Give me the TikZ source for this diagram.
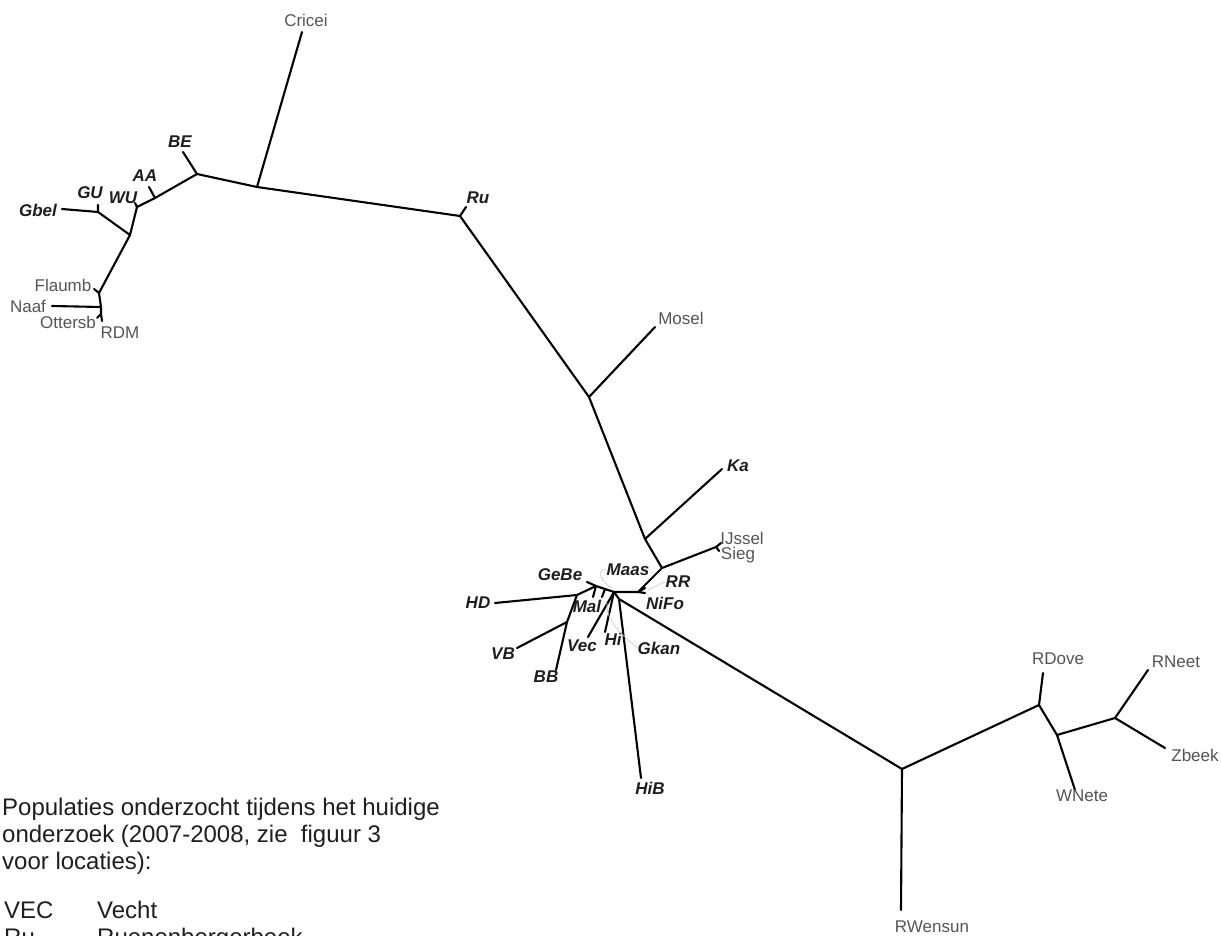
\documentclass[tikz,border=0pt]{standalone}
\usepackage{fontspec}
\setmainfont{Liberation Sans}
\usepackage{tikz}
\definecolor{naamgrijs}{RGB}{85,85,85}
\definecolor{naamdonker}{RGB}{30,30,30}
\tikzset{
  tak/.style={line width=2.1pt, black, line join=round, line cap=round},
  naam/.style={font=\fontsize{17}{17}\selectfont, text=naamgrijs, inner sep=0pt},
  naamvet/.style={font=\fontsize{17}{17}\selectfont\bfseries\itshape, text=naamdonker, inner sep=0pt},
  hulplijn/.style={line width=0.7pt, gray!40},
  tekst/.style={font=\fontsize{24}{27}\selectfont, text=black!88, inner sep=0pt, anchor=base west}
}

\begin{document}
\begin{tikzpicture}[x=1pt,y=-1pt]
  \useasboundingbox (0,0) rectangle (1221,936);
  \clip (0,0) rectangle (1221,936);
  \fill[white] (0,0) rectangle (1221,936);

  % Bovenste groep
  \coordinate (cri) at (302,32);
  \coordinate (jcri) at (257,187);
  \coordinate (jbe) at (197,174);
  \coordinate (be) at (183,152);
  \coordinate (jaa) at (155,198);
  \coordinate (aa) at (149,187);
  \coordinate (jwu) at (137,207);
  \coordinate (wu) at (135,203);
  \coordinate (n1) at (130,235);
  \coordinate (jgu) at (98,212);
  \coordinate (gu) at (98,205);
  \coordinate (gbel) at (62,209);
  \coordinate (jfl) at (99,293);
  \coordinate (fl) at (94,289);
  \coordinate (n2) at (101,307);
  \coordinate (naaf) at (52,306);
  \coordinate (n3) at (101,314);
  \coordinate (ott) at (97,318);
  \coordinate (rdm) at (102,321);

  % Middenas
  \coordinate (jru) at (460,216);
  \coordinate (ru) at (466,207);
  \coordinate (jmos) at (589,397);
  \coordinate (mos) at (655,327);
  \coordinate (jka) at (645,539);
  \coordinate (ka) at (722,469);
  \coordinate (jij) at (662,568);
  \coordinate (jis) at (716,547);
  \coordinate (ijs) at (721,543);
  \coordinate (sieg) at (719,551);
  \coordinate (jrr) at (638,592);
  \coordinate (rr) at (645,588);
  \coordinate (nifo) at (645,593);
  \coordinate (hub) at (614,592);
  \coordinate (jx) at (605,589);
  \coordinate (mal2) at (602,597);
  \coordinate (jge) at (596,586);
  \coordinate (gebe) at (587,582);
  \coordinate (mal) at (593,597);
  \coordinate (jhd) at (577,595);
  \coordinate (hd) at (495,603);
  \coordinate (jvb) at (567,622);
  \coordinate (vb) at (517,648);
  \coordinate (bb) at (556,670);
  \coordinate (vec) at (588,637);
  \coordinate (hi) at (605,632);
  \coordinate (jhb) at (619,599);
  \coordinate (hib) at (641,778);

  % Rechter groep
  \coordinate (jwen) at (902,769);
  \coordinate (wen) at (901,910);
  \coordinate (jdov) at (1039,705);
  \coordinate (dov) at (1043,673);
  \coordinate (jwn) at (1057,735);
  \coordinate (wn) at (1075,790);
  \coordinate (jzb) at (1115,718);
  \coordinate (rneet) at (1148,670);
  \coordinate (zbeek) at (1165,748);

  % Takken
  \draw[tak] (cri) -- (jcri) -- (jru);
  \draw[tak] (jcri) -- (jbe) -- (be);
  \draw[tak] (jbe) -- (jaa) -- (aa);
  \draw[tak] (jaa) -- (jwu) -- (wu);
  \draw[tak] (jwu) -- (n1) -- (jgu) -- (gu);
  \draw[tak] (jgu) -- (gbel);
  \draw[tak] (n1) -- (jfl) -- (fl);
  \draw[tak] (jfl) -- (n2) -- (naaf);
  \draw[tak] (n2) -- (n3) -- (ott);
  \draw[tak] (n3) -- (rdm);

  \draw[tak] (jru) -- (ru);
  \draw[tak] (jru) -- (jmos) -- (mos);
  \draw[tak] (jmos) -- (jka) -- (ka);
  \draw[tak] (jka) -- (jij) -- (jis) -- (ijs);
  \draw[tak] (jis) -- (sieg);
  \draw[tak] (jij) -- (jrr) -- (rr);
  \draw[tak] (jrr) -- (nifo);
  \draw[tak] (jrr) -- (hub) -- (jx) -- (jge) -- (gebe);
  \draw[tak] (jx) -- (mal2);
  \draw[tak] (jge) -- (mal);
  \draw[tak] (jge) -- (jhd) -- (hd);
  \draw[tak] (jhd) -- (jvb) -- (vb);
  \draw[tak] (jvb) -- (bb);
  \draw[tak] (hub) -- (vec);
  \draw[tak] (hub) -- (hi);
  \draw[tak] (hub) -- (jhb) -- (hib);
  \draw[tak] (jhb) -- (jwen) -- (wen);
  \draw[tak] (jwen) -- (jdov) -- (dov);
  \draw[tak] (jdov) -- (jwn) -- (wn);
  \draw[tak] (jwn) -- (jzb) -- (rneet);
  \draw[tak] (jzb) -- (zbeek);

  % Namen
  \node[naam] (tcri) at (306,20) {Cricei};
  \node[naamvet] (tbe) at (180,142) {BE};
  \node[naamvet] (taa) at (145,176) {AA};
  \node[naamvet] (twu) at (123,198) {WU};
  \node[naamvet] (tgu) at (90,193) {GU};
  \node[naamvet] (tgbel) at (38,210) {Gbel};
  \node[naam] (tfl) at (63,285) {Flaumb};
  \node[naam] (tnaaf) at (28,306) {Naaf};
  \node[naam] (tott) at (68,322) {Ottersb};
  \node[naam] (trdm) at (120,333) {RDM};
  \node[naamvet] (tru) at (478,198) {Ru};
  \node[naam] (tmos) at (681,318) {Mosel};
  \node[naamvet] (tka) at (738,466) {Ka};
  \node[naam] (tijs) at (742,538) {IJssel};
  \node[naam] (tsieg) at (738,555) {Sieg};
  \node[naamvet] (tmaas) at (628,570) {Maas};
  \node[naamvet] (trr) at (678,582) {RR};
  \node[naamvet] (tnifo) at (665,603) {NiFo};
  \node[naamvet] (tgebe) at (560,575) {GeBe};
  \node[naamvet] (thd) at (478,603) {HD};
  \node[naamvet] (tmal) at (587,606) {Mal};
  \node[naamvet] (tvb) at (503,654) {VB};
  \node[naamvet] (tbb) at (546,677) {BB};
  \node[naamvet] (tvec) at (582,646) {Vec};
  \node[naamvet] (thi) at (613,639) {Hi};
  \node[naamvet] (tgkan) at (659,648) {Gkan};
  \node[naamvet] (thib) at (650,788) {HiB};
  \node[naam] (twen) at (932,927) {RWensun};
  \node[naam] (tdov) at (1058,659) {RDove};
  \node[naam] (trneet) at (1176,662) {RNeet};
  \node[naam] (tzbeek) at (1195,755) {Zbeek};
  \node[naam] (twn) at (1082,796) {WNete};

  % Hulplijnen
  \coordinate (lmaas) at (612,588);
  \coordinate (lrr) at (648,590);
  \coordinate (lgk) at (607,603);
  \draw[hulplijn] (tmaas.west) .. controls (597,567) and (599,581) .. (lmaas);
  \draw[hulplijn] (trr.west) .. controls (660,583) and (654,588) .. (lrr);
  \draw[hulplijn] (tgkan.west) .. controls (620,634) and (606,620) .. (lgk);

  % Legenda
  \node[tekst] (regel1) at (2,815) {Populaties onderzocht tijdens het huidige};
  \node[tekst] (regel2) at (2,842) {onderzoek (2007-2008, zie\ \ figuur 3};
  \node[tekst] (regel3) at (2,869) {voor locaties):};
  \node[tekst] (kvec) at (4,918) {VEC};
  \node[tekst] (nvec) at (97,918) {Vecht};
  \node[tekst] (kru) at (4,945) {Ru};
  \node[tekst] (nru) at (97,945) {Ruenenbergerbeek};
\end{tikzpicture}
\end{document}
